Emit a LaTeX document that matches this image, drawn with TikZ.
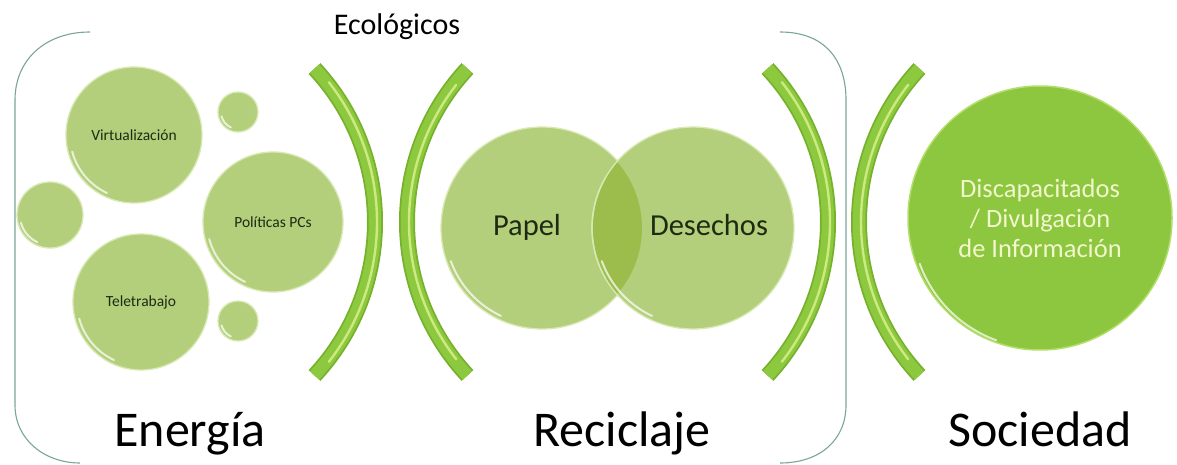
\documentclass[tikz,border=0pt]{standalone}
\usepackage{fontspec}
\setmainfont{Carlito}
\usetikzlibrary{calc}
\definecolor{bubblefill}{HTML}{B3CF7B}
\definecolor{bubblerim}{HTML}{D9E9B4}
\definecolor{bubbletext}{HTML}{1F2A12}
\definecolor{lensfill}{HTML}{9CBD4C}
\definecolor{socfill}{HTML}{8DC63F}
\definecolor{socrim}{HTML}{B4DE6A}
\definecolor{soctext}{HTML}{F2F6CC}
\definecolor{tubedark}{HTML}{76B02C}
\definecolor{tubebody}{HTML}{8DC93F}
\definecolor{tubehl}{HTML}{CDEA80}
\definecolor{bracketc}{HTML}{7AA59C}
\begin{document}
\begin{tikzpicture}[x=1pt,y=-1pt,
  bubble/.style={circle, fill=bubblefill, draw=bubblerim, line width=1.3pt, inner sep=0pt, text=bubbletext},
  smalltext/.style={font=\fontsize{15.5}{18}\selectfont},
  venntext/.style={font=\fontsize{30.5}{34}\selectfont, text=bubbletext, anchor=base},
  biglabel/.style={font=\fontsize{50}{56}\selectfont, anchor=base, text=black},
  tubeouter/.style={draw=tubedark, line width=16pt},
  tubeinner/.style={draw=tubebody, line width=12.5pt},
  tubeshine/.style={draw=tubehl, line width=2.4pt, line cap=round},
  bracketline/.style={draw=bracketc, line width=1.1pt},
  gloss/.style={draw=white, opacity=0.7, line width=2pt, line cap=round}
]
\useasboundingbox[fill=white] (0,0) rectangle (1177,465);

% brackets
\draw[bracketline] (90,32) .. controls (45,32) and (15,60) .. (15,100) -- (15,405) .. controls (15,440) and (45,463) .. (80,463);
\draw[bracketline] (780,32) .. controls (825,32) and (846,60) .. (846,100) -- (846,405) .. controls (846,440) and (820,463) .. (780,463);

% Energia bubbles
\node[bubble, minimum size=136pt, smalltext] (virt) at (134,135) {Virtualización};
\node[bubble, minimum size=40pt] (smtop) at (238,112) {};
\node[bubble, minimum size=66pt] (smleft) at (50,215) {};
\node[bubble, minimum size=140pt, smalltext] (pol) at (273,222) {Políticas PCs};
\node[bubble, minimum size=136pt, smalltext] (tele) at (141,302) {Teletrabajo};
\node[bubble, minimum size=40pt] (smbot) at (238,321) {};
\foreach \n/\r in {virt/64, smtop/17, smleft/30, pol/66, tele/64, smbot/17}
  \draw[gloss] (\n.center) ++(115:\r) arc[start angle=115, end angle=165, radius=\r];

% Venn
\node[bubble, minimum size=202pt] (papelc) at (542,228) {};
\node[bubble, minimum size=202pt] (desc) at (693,228) {};
\begin{scope}
  \clip (542,228) circle (100);
  \fill[lensfill] (693,228) circle (100);
\end{scope}
\draw[bubblerim, line width=1.3pt] (693,228) ++(150:101) arc[start angle=150, end angle=210, radius=101];
\draw[gloss] (papelc.center) ++(115:97) arc[start angle=115, end angle=160, radius=97];
\draw[gloss] (desc.center) ++(115:97) arc[start angle=115, end angle=160, radius=97];
\node[venntext] (papel) at (527,235) {Papel};
\node[venntext] (desechos) at (709,235) {Desechos};

% Sociedad circle
\node[circle, fill=socfill, draw=socrim, line width=1.5pt, minimum size=264pt, inner sep=0pt,
      align=center, text=soctext, font=\fontsize{26.5}{30}\selectfont] (soc) at (1040,218)
      {Discapacitados\\/ Divulgación\\de Información};
\draw[gloss] (1040,220) ++(110:128) arc[start angle=110, end angle=160, radius=128];

% tubes
\foreach \cx/\a/\b in {150/-43/43, 632/137/223, 603/-43/43, 1084/137/223}{
  \draw[tubeouter] (\cx,222) ++(\a:225) arc[start angle=\a, end angle=\b, radius=225];
  \draw[tubeinner] (\cx,222) ++(\a:225) arc[start angle=\a, end angle=\b, radius=225];
}
\foreach \cx/\a/\b in {150/-38/38, 603/-38/38}
  \draw[tubeshine] (\cx,222) ++(\a:227) arc[start angle=\a, end angle=\b, radius=227];
\foreach \cx/\a/\b in {632/142/218, 1084/142/218}
  \draw[tubeshine] (\cx,222) ++(\a:223) arc[start angle=\a, end angle=\b, radius=223];

% labels
\node[font=\fontsize{30}{34}\selectfont, anchor=base] (eco) at (397,35) {Ecológicos};
\node[biglabel] (energia) at (190,446) {Energía};
\node[biglabel] (reciclaje) at (622,446) {Reciclaje};
\node[biglabel] (sociedad) at (1040,446) {Sociedad};
\end{tikzpicture}
\end{document}
